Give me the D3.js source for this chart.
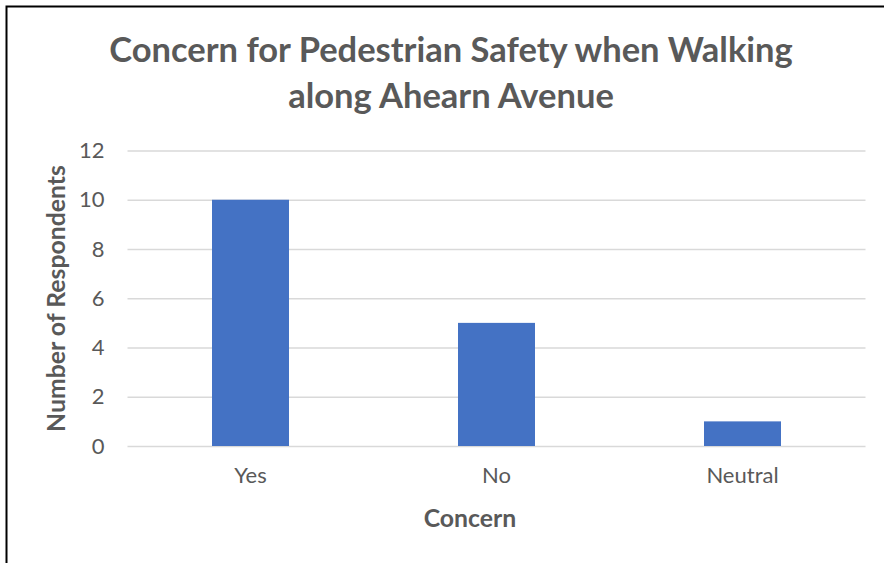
<!DOCTYPE html>
<html>
<head>
<meta charset="utf-8">
<script src="https://cdn.jsdelivr.net/npm/d3@7"></script>
<style>
  html, body { margin: 0; padding: 0; background: #ffffff; }
  svg { display: block; }
  text { font-family: Lato, "Open Sans", sans-serif; fill: #595959; }
</style>
</head>
<body>
<script>
// ---- data ----
const categories = ["Yes", "No", "Neutral"];
const respondents = [10, 5, 1];
const yTicks = [0, 2, 4, 6, 8, 10, 12];
const titleLines = ["Concern for Pedestrian Safety when Walking", "along Ahearn Avenue"];
const xAxisTitle = "Concern";
const yAxisTitle = "Number of Respondents";

// ---- layout ----
const W = 884, H = 563;
const plot = { left: 127.5, right: 865.5, top: 150.5, bottom: 446 };

const svg = d3.select("body").append("svg")
  .attr("width", W).attr("height", H);

svg.append("rect").attr("x", 0).attr("y", 0).attr("width", W).attr("height", H).attr("fill", "#fff");

// chart border (only left and top visible in the crop)
svg.append("path")
  .attr("d", "M6.5," + H + " V6.5 H" + W)
  .attr("fill", "none").attr("stroke", "#000").attr("stroke-width", 2);

const x = d3.scaleBand()
  .domain(categories)
  .range([plot.left, plot.right])
  .paddingInner(0.687)
  .paddingOuter(0.3435);

const y = d3.scaleLinear()
  .domain([0, 12])
  .range([plot.bottom, plot.top]);

// y axis with gridlines
const yAxis = svg.append("g")
  .attr("transform", "translate(" + plot.left + ",0)")
  .call(d3.axisLeft(y).tickValues(yTicks).tickSize(-(plot.right - plot.left)).tickPadding(23));
yAxis.select(".domain").remove();
yAxis.selectAll(".tick line").attr("stroke", "#d9d9d9").attr("stroke-width", 1.6);
yAxis.selectAll(".tick text")
  .attr("fill", "#595959")
  .style("font-family", "Lato, sans-serif")
  .style("font-size", "22px");

// bars
svg.append("g").selectAll("rect")
  .data(categories)
  .join("rect")
  .attr("x", d => x(d))
  .attr("width", x.bandwidth())
  .attr("y", (d, i) => y(respondents[i]))
  .attr("height", (d, i) => y(0) - y(respondents[i]))
  .attr("fill", "#4472c4");

// x axis labels
const xAxis = svg.append("g")
  .attr("transform", "translate(0," + plot.bottom + ")")
  .call(d3.axisBottom(x).tickSize(0).tickPadding(21.5));
xAxis.select(".domain").remove();
xAxis.selectAll(".tick text")
  .attr("fill", "#595959")
  .style("font-family", "Lato, sans-serif")
  .style("font-size", "22px");

// title
const title = svg.append("text")
  .attr("text-anchor", "middle")
  .style("font-size", "34.5px")
  .style("font-weight", "700");
title.selectAll("tspan")
  .data(titleLines)
  .join("tspan")
  .attr("x", 451)
  .attr("y", (d, i) => 62 + i * 46)
  .text(d => d);

// axis titles
svg.append("text")
  .attr("x", 470).attr("y", 527)
  .attr("text-anchor", "middle")
  .style("font-size", "24.8px").style("font-weight", "700")
  .text(xAxisTitle);

svg.append("text")
  .attr("transform", "translate(65," + 298.5 + ") rotate(-90)")
  .attr("text-anchor", "middle")
  .style("font-size", "24.8px").style("font-weight", "700")
  .text(yAxisTitle);
</script>
</body>
</html>
